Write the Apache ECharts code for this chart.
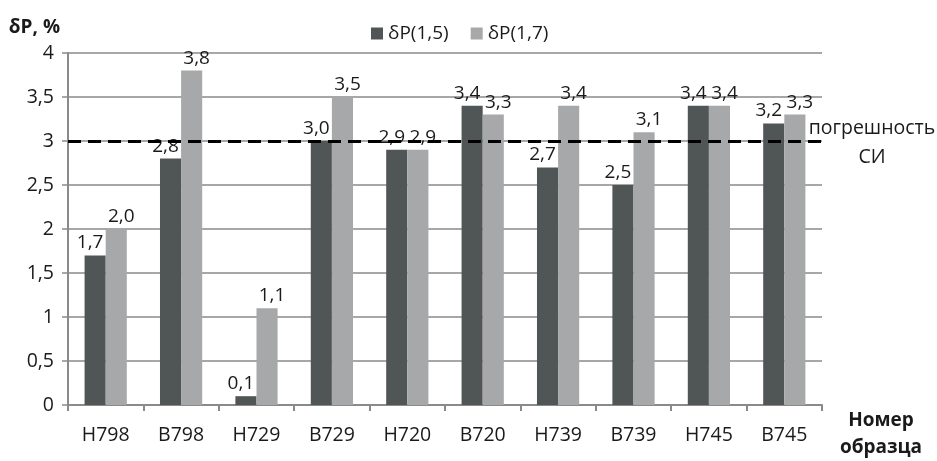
<!DOCTYPE html>
<html>
<head>
<meta charset="utf-8">
<script src="https://cdn.jsdelivr.net/npm/echarts@6/dist/echarts.min.js"></script>
<style>
  html, body { margin: 0; padding: 0; background: #fff; width: 100%; height: 100%; overflow: hidden; }
  #chart { width: 100vw; height: 100vh; }
</style>
</head>
<body>
<div id="chart"></div>
<script>
// Sample numbers along the horizontal axis
const categories = ['Н798', 'В798', 'Н729', 'В729', 'Н720', 'В720', 'Н739', 'В739', 'Н745', 'В745'];
// Relative error, %, for the two parameters
const seriesNames = ['δP(1,5)', 'δP(1,7)'];
const dP15 = [1.7, 2.8, 0.1, 3.0, 2.9, 3.4, 2.7, 2.5, 3.4, 3.2];
const dP17 = [2.0, 3.8, 1.1, 3.5, 2.9, 3.3, 3.4, 3.1, 3.4, 3.3];
// Measuring-instrument error threshold, %
const instrumentError = 3;
const yTicks = [0, 0.5, 1, 1.5, 2, 2.5, 3, 3.5, 4];

const FONT = '"Open Sans", sans-serif';
const TXT = '#1a1a1a';
const fmt = v => Number(v).toFixed(1).replace('.', ',');

const chart = echarts.init(document.getElementById('chart'), null, { renderer: 'canvas' });

// value labels, nudged sideways so neighbouring labels don't collide
const makeLabel = dx => ({
  show: true,
  position: 'top',
  distance: 3,
  offset: [dx, 0],
  fontFamily: FONT,
  fontSize: 19,
  color: TXT,
  formatter: p => fmt(p.value)
});

chart.setOption({
  animation: false,
  textStyle: { fontFamily: FONT },
  legend: {
    top: 19,
    left: 366,
    itemWidth: 12,
    itemHeight: 12,
    itemGap: 22,
    icon: 'rect',
    textStyle: { fontFamily: FONT, fontSize: 19, color: TXT },
    data: seriesNames
  },
  grid: { left: 68, right: 115, top: 53, bottom: 50, containLabel: false },
  xAxis: {
    type: 'category',
    data: categories,
    name: 'Номер\nобразца',
    nameLocation: 'end',
    nameGap: 59,
    nameTextStyle: {
      fontFamily: FONT, fontSize: 19, fontWeight: 'bold', color: TXT,
      align: 'center', verticalAlign: 'top', lineHeight: 27, padding: [2, 0, 0, 0]
    },
    axisLine: { lineStyle: { color: '#8a8a8a', width: 2 } },
    axisTick: { show: true, alignWithLabel: false, length: 6, lineStyle: { color: '#8a8a8a', width: 2 } },
    axisLabel: { fontFamily: FONT, fontSize: 19.5, color: TXT, margin: 20 }
  },
  yAxis: {
    type: 'value',
    min: yTicks[0],
    max: yTicks[yTicks.length - 1],
    interval: yTicks[1] - yTicks[0],
    name: 'δP, %',
    nameLocation: 'end',
    nameGap: 16,
    nameTextStyle: {
      fontFamily: FONT, fontSize: 19, fontWeight: 'bold', color: TXT,
      align: 'right', padding: [0, 8, 0, 0]
    },
    axisLine: { show: true, lineStyle: { color: '#8a8a8a', width: 2 } },
    axisTick: { show: true, length: 6, lineStyle: { color: '#8a8a8a', width: 1.5 } },
    axisLabel: {
      fontFamily: FONT, fontSize: 19.5, color: TXT, margin: 14,
      formatter: v => String(v).replace('.', ',')
    },
    splitLine: { lineStyle: { color: '#8a8a8a', width: 1.5 } }
  },
  series: [
    {
      name: seriesNames[0],
      type: 'bar',
      data: dP15,
      barGap: '0%',
      barCategoryGap: '44%',
      itemStyle: { color: '#505556' },
      label: makeLabel(-5),
      z: 2
    },
    {
      name: seriesNames[1],
      type: 'bar',
      data: dP17,
      barGap: '0%',
      barCategoryGap: '44%',
      itemStyle: { color: '#a7a8a9' },
      label: makeLabel(5),
      markLine: {
        silent: true,
        symbol: 'none',
        data: [{ yAxis: instrumentError }],
        lineStyle: { color: '#000', width: 3, type: [13, 7] },
        label: {
          show: true,
          position: 'end',
          distance: -14,
          color: TXT,
          padding: [4, 0, 0, 0],
          formatter: '{a|погрешность}\n{a|СИ}',
          rich: { a: { fontFamily: FONT, fontSize: 19.5, color: TXT, align: 'center', width: 128, lineHeight: 29 } }
        }
      },
      z: 2
    }
  ]
});
</script>
</body>
</html>
